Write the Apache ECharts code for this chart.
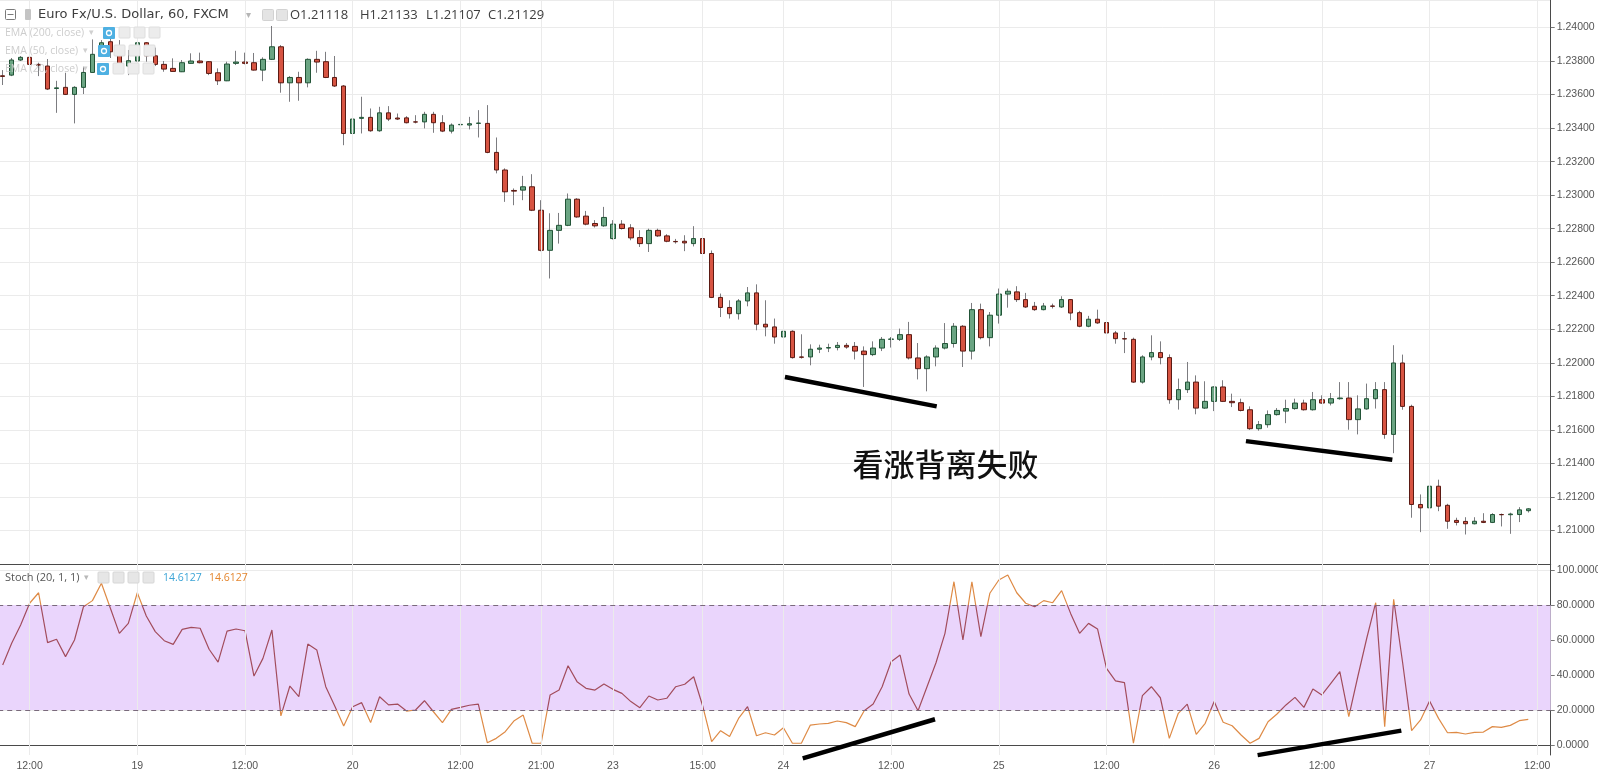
<!DOCTYPE html>
<html><head><meta charset="utf-8">
<script src="https://cdn.jsdelivr.net/npm/echarts@6/dist/echarts.min.js"></script>
<style>html,body{margin:0;padding:0;background:#fff;overflow:hidden}#c{width:1598px;height:771px}</style>
</head><body><div id="c"></div>
<script>
// ---------- DATA ----------
const open = [1.23712,1.23716,1.23806,1.23822,1.23780,1.23770,1.23636,1.23643,1.23601,1.23643,
1.23732,1.23836,1.23915,1.23855,1.23770,1.23800,1.23909,1.23831,1.23780,1.23756,
1.23736,1.23786,1.23800,1.23796,1.23730,1.23682,1.23786,1.23794,1.23790,1.23746,
1.23810,1.23885,1.23670,1.23702,1.23670,1.23810,1.23796,1.23702,1.23651,1.23368,
1.23458,1.23464,1.23384,1.23491,1.23460,1.23461,1.23437,1.23437,1.23482,1.23432,
1.23382,1.23420,1.23418,1.23428,1.23428,1.23255,1.23150,1.23028,1.23030,1.23050,
1.22910,1.22671,1.22790,1.22820,1.22976,1.22875,1.22831,1.22817,1.22741,1.22827,
1.22805,1.22747,1.22711,1.22790,1.22757,1.22724,1.22725,1.22711,1.22741,1.22652,
1.22390,1.22330,1.22293,1.22369,1.22417,1.22230,1.22214,1.22154,1.22188,1.22035,
1.22035,1.22081,1.22088,1.22091,1.22104,1.22098,1.22070,1.22049,1.22088,1.22140,
1.22140,1.22168,1.22029,1.21965,1.22035,1.22088,1.22115,1.22218,1.22070,1.22317,
1.22150,1.22284,1.22410,1.22423,1.22377,1.22337,1.22317,1.22339,1.22333,1.22377,
1.22299,1.22218,1.22260,1.22240,1.22178,1.22144,1.22140,1.21885,1.22035,1.22061,
1.22031,1.21780,1.21840,1.21885,1.21730,1.21770,1.21856,1.21770,1.21762,1.21720,
1.21607,1.21631,1.21691,1.21712,1.21727,1.21760,1.21720,1.21780,1.21760,1.21786,
1.21790,1.21661,1.21725,1.21786,1.21840,1.21573,1.21999,1.21740,1.21155,1.21135,
1.21264,1.21150,1.21060,1.21054,1.21040,1.21055,1.21048,1.21095,1.21094,1.21095,
1.21118];
const close = [1.23708,1.23806,1.23822,1.23780,1.23774,1.23633,1.23640,1.23601,1.23643,1.23732,
1.23840,1.23909,1.23855,1.23770,1.23802,1.23909,1.23831,1.23780,1.23752,1.23738,
1.23790,1.23800,1.23790,1.23726,1.23682,1.23782,1.23794,1.23786,1.23746,1.23810,
1.23885,1.23670,1.23702,1.23670,1.23810,1.23794,1.23702,1.23651,1.23368,1.23454,
1.23464,1.23384,1.23491,1.23454,1.23454,1.23432,1.23436,1.23482,1.23432,1.23382,
1.23418,1.23422,1.23426,1.23430,1.23255,1.23150,1.23020,1.23024,1.23050,1.22910,
1.22671,1.22790,1.22820,1.22976,1.22870,1.22827,1.22817,1.22867,1.22827,1.22801,
1.22745,1.22711,1.22790,1.22757,1.22725,1.22722,1.22715,1.22741,1.22652,1.22390,
1.22330,1.22293,1.22369,1.22417,1.22230,1.22214,1.22154,1.22188,1.22031,1.22033,
1.22081,1.22088,1.22091,1.22104,1.22094,1.22070,1.22049,1.22088,1.22140,1.22142,
1.22168,1.22029,1.21965,1.22035,1.22088,1.22115,1.22218,1.22070,1.22317,1.22150,
1.22284,1.22410,1.22427,1.22377,1.22333,1.22317,1.22339,1.22337,1.22377,1.22297,
1.22218,1.22260,1.22238,1.22178,1.22144,1.22142,1.21885,1.22035,1.22061,1.22031,
1.21780,1.21840,1.21885,1.21730,1.21770,1.21856,1.21770,1.21762,1.21716,1.21607,
1.21631,1.21691,1.21716,1.21727,1.21760,1.21720,1.21780,1.21760,1.21786,1.21790,
1.21661,1.21725,1.21786,1.21840,1.21573,1.21999,1.21740,1.21155,1.21135,1.21264,
1.21145,1.21055,1.21048,1.21040,1.21055,1.21048,1.21095,1.21094,1.21098,1.21123,
1.21129];
const low = [1.23657,1.23710,1.23800,1.23774,1.23710,1.23627,1.23491,1.23597,1.23428,1.23603,
1.23730,1.23824,1.23818,1.23764,1.23716,1.23736,1.23796,1.23770,1.23736,1.23736,
1.23734,1.23785,1.23786,1.23716,1.23657,1.23680,1.23776,1.23780,1.23743,1.23680,
1.23806,1.23611,1.23557,1.23563,1.23643,1.23730,1.23698,1.23645,1.23298,1.23338,
1.23368,1.23378,1.23378,1.23442,1.23448,1.23428,1.23428,1.23398,1.23372,1.23376,
1.23368,1.23404,1.23392,1.23344,1.23250,1.23130,1.22960,1.22940,1.22970,1.22905,
1.22665,1.22503,1.22711,1.22815,1.22865,1.22820,1.22807,1.22811,1.22735,1.22795,
1.22731,1.22691,1.22661,1.22751,1.22719,1.22711,1.22666,1.22694,1.22646,1.22386,
1.22273,1.22264,1.22258,1.22337,1.22194,1.22158,1.22114,1.22124,1.22025,1.22025,
1.21985,1.22058,1.22064,1.22074,1.22084,1.22020,1.21856,1.22040,1.22070,1.22091,
1.22130,1.22020,1.21901,1.21830,1.21979,1.22080,1.22091,1.21975,1.22020,1.22140,
1.22098,1.22234,1.22329,1.22363,1.22327,1.22310,1.22313,1.22324,1.22327,1.22254,
1.22212,1.22212,1.22232,1.22160,1.22114,1.22058,1.21880,1.21876,1.22015,1.21991,
1.21756,1.21721,1.21820,1.21693,1.21725,1.21712,1.21766,1.21736,1.21710,1.21600,
1.21595,1.21613,1.21685,1.21640,1.21720,1.21715,1.21715,1.21755,1.21746,1.21780,
1.21601,1.21573,1.21720,1.21727,1.21547,1.21461,1.21720,1.21076,1.20990,1.21100,
1.21115,1.21010,1.21030,1.20976,1.21036,1.21044,1.21044,1.21024,1.20980,1.21050,
1.21107];
const high = [1.23746,1.23818,1.23830,1.23826,1.23790,1.23812,1.23682,1.23730,1.23650,1.23766,
1.23929,1.23925,1.23975,1.23925,1.23866,1.23925,1.23913,1.23880,1.23800,1.23816,
1.23806,1.23846,1.23850,1.23800,1.23756,1.23796,1.23861,1.23850,1.23848,1.23822,
1.24009,1.23895,1.23710,1.23736,1.23816,1.23861,1.23855,1.23830,1.23657,1.23488,
1.23587,1.23517,1.23527,1.23531,1.23487,1.23471,1.23477,1.23497,1.23497,1.23477,
1.23428,1.23448,1.23467,1.23507,1.23537,1.23344,1.23160,1.23040,1.23115,1.23125,
1.22970,1.22892,1.22894,1.23010,1.22982,1.22906,1.22851,1.22930,1.22851,1.22851,
1.22827,1.22791,1.22800,1.22800,1.22767,1.22739,1.22761,1.22815,1.22900,1.22670,
1.22413,1.22373,1.22380,1.22452,1.22468,1.22373,1.22264,1.22237,1.22194,1.22170,
1.22110,1.22108,1.22114,1.22124,1.22118,1.22124,1.22098,1.22128,1.22154,1.22154,
1.22204,1.22244,1.22118,1.22045,1.22104,1.22237,1.22237,1.22225,1.22357,1.22353,
1.22303,1.22443,1.22443,1.22457,1.22417,1.22363,1.22357,1.22353,1.22397,1.22380,
1.22310,1.22280,1.22317,1.22245,1.22190,1.22184,1.22150,1.22045,1.22164,1.22128,
1.22050,1.21906,1.22005,1.21925,1.21890,1.21860,1.21896,1.21816,1.21786,1.21740,
1.21653,1.21716,1.21730,1.21780,1.21786,1.21780,1.21826,1.21806,1.21820,1.21885,
1.21885,1.21806,1.21876,1.21885,1.21885,1.22105,1.22049,1.21750,1.21215,1.21298,
1.21303,1.21159,1.21076,1.21079,1.21079,1.21103,1.21103,1.21101,1.21106,1.21139,
1.21133];
const stoch = [45.7,58.1,68.6,81.0,87.0,58.5,60.4,50.5,60.0,79.0,
82.5,92.4,78.1,63.8,69.5,87.0,73.7,64.8,59.6,57.5,
66.1,67.2,66.7,54.7,47.4,65.1,66.3,65.3,39.4,49.5,
65.7,16.6,33.7,27.6,57.7,54.3,33.3,22.3,10.9,21.9,
24.2,12.8,27.6,22.9,23.4,19.4,20.0,25.3,19.0,12.8,
20.4,21.5,22.7,23.4,1.3,3.8,7.6,13.9,17.1,1.0,
1.0,28.6,31.4,45.3,36.2,32.4,31.4,34.9,31.8,29.5,
24.8,21.3,28.0,25.7,26.7,33.3,34.7,39.0,22.3,1.9,
8.2,4.8,15.2,21.9,5.3,7.0,5.7,9.9,1.0,1.0,
11.4,12.0,12.4,13.7,12.8,10.5,19.6,23.4,33.3,47.6,
51.4,29.1,19.6,33.3,47.0,63.8,93.3,60.0,93.3,61.9,
86.7,94.3,97.1,87.0,81.0,79.0,82.5,81.3,88.2,75.2,
63.8,69.5,66.3,43.8,36.6,35.6,1.0,28.2,33.3,27.0,
3.8,18.1,23.4,6.1,12.4,24.8,13.0,11.0,5.7,1.0,
3.8,13.3,17.7,22.9,27.2,21.5,32.0,28.6,35.2,41.9,
16.2,39.0,61.0,81.3,10.5,83.2,47.0,8.2,14.3,25.1,
15.2,7.0,7.2,6.3,7.2,7.4,10.5,10.1,11.2,13.9,
14.6127];
const timeLabelIndex = [3,15,27,39,51,60,68,78,87,99,111,123,135,147,159,171];
const timeLabelText = ['12:00','19','12:00','20','12:00','21:00','23','15:00','24','12:00','25','12:00','26','12:00','27','12:00'];
const futureSlots = 2;
const lastPrice = 1.21129;
const stochBands = [20, 80];
const stochTicks = [0, 20, 40, 60, 80, 100];
const titleText = 'Euro Fx/U.S. Dollar, 60, FXCM';
const ohlcText = ['O1.21118', 'H1.21133', 'L1.21107', 'C1.21129'];
const emaLabels = ['EMA (200, close)', 'EMA (50, close)', 'EMA (20, close)'];
const stochTitle = 'Stoch (20, 1, 1)';
const stochValueText = '14.6127';
const annotationText = '看涨背离失败';
const annotationAt = [105.06, 1.21397];
const priceTrendLines = [[[87.17, 1.21915], [104.08, 1.21740]], [[138.54, 1.21533], [154.85, 1.21422]]];
const stochTrendLines = [[[89.15, -7.6], [103.89, 14.7]], [[139.84, -5.8], [155.85, 8.2]]];

// ---------- LAYOUT ----------
const SLOT = 8.974, X0 = 2.7;
const N = open.length;
const slots = N + futureSlots;
const categories = Array.from({length: slots}, (_, i) => String(i));
const labelMap = {};
timeLabelIndex.forEach((k, j) => { labelMap[k] = timeLabelText[j]; });
const gridLeft = X0 - SLOT / 2;
const gridWidth = SLOT * slots;
const AX = '#4a4a4a', LBL = '#555555', GRID = '#ebebeb';
const FONT = '"Liberation Sans", Arial, sans-serif';

const wickData = open.map((o, i) => [o, close[i], low[i], high[i]]);
const bodyData = open.map((o, i) => [o, close[i], Math.min(o, close[i]), Math.max(o, close[i])]);

const chart = echarts.init(document.getElementById('c'), null, {renderer: 'canvas'});
const vLines = timeLabelIndex.map(k => ({xAxis: String(k)}));

chart.setOption({
  animation: false,
  backgroundColor: '#ffffff',
  grid: [
    {left: gridLeft, top: 0, width: gridWidth, height: 564, containLabel: false, outerBoundsMode: 'none'},
    {left: gridLeft, top: 564, width: gridWidth, height: 191, containLabel: false, outerBoundsMode: 'none'}
  ],
  xAxis: [
    {type: 'category', gridIndex: 0, data: categories, boundaryGap: true,
     axisLine: {show: true, lineStyle: {color: AX, width: 1}}, axisTick: {show: false},
     axisLabel: {show: false}, splitLine: {show: false}},
    {type: 'category', gridIndex: 1, data: categories, boundaryGap: true,
     axisLine: {show: true, lineStyle: {color: AX, width: 1}}, axisTick: {show: false},
     axisLabel: {show: true, interval: (i) => labelMap[i] !== undefined,
                 formatter: (v) => labelMap[+v] || '', color: LBL, fontSize: 10.5, margin: 6, fontFamily: FONT},
     splitLine: {show: false}}
  ],
  yAxis: [
    {type: 'value', gridIndex: 0, position: 'right', min: 1.208, max: 1.24164, interval: 0.002,
     axisLine: {show: true, lineStyle: {color: AX}}, axisTick: {show: true, length: 4, lineStyle: {color: '#777'}},
     axisLabel: {formatter: v => v.toFixed(5), color: LBL, fontSize: 10.5, margin: 6, fontFamily: FONT,
                 showMinLabel: false, showMaxLabel: false},
     splitLine: {show: true, lineStyle: {color: GRID}}},
    {type: 'value', gridIndex: 1, position: 'right', min: -5.714, max: 103.43,
     axisLine: {show: true, lineStyle: {color: AX}},
     axisTick: {show: true, length: 4, customValues: stochTicks, lineStyle: {color: '#777'}},
     axisLabel: {customValues: stochTicks, formatter: v => v.toFixed(4), color: LBL, fontSize: 10.5, margin: 6, fontFamily: FONT},
     splitLine: {show: true, lineStyle: {color: GRID}}}
  ],
  visualMap: {type: 'piecewise', show: false, seriesIndex: 3, dimension: 1,
    pieces: [{gt: stochBands[0], lte: stochBands[1], color: '#a24c5c'}],
    outOfRange: {color: '#de8a45'}},
  series: [
    {name: 'wick', type: 'candlestick', xAxisIndex: 0, yAxisIndex: 0, data: wickData, barWidth: 0.01,
     silent: true, z: 2,
     itemStyle: {color: '#7c7c80', color0: '#7c7c80', borderColor: '#7c7c80', borderColor0: '#7c7c80',
                 borderColorDoji: '#7c7c80', borderWidth: 1},
     markLine: {silent: true, symbol: ['none', 'none'], label: {show: false},
                lineStyle: {color: GRID, type: 'solid', width: 1}, data: vLines}},
    {name: 'EUR/USD', type: 'candlestick', xAxisIndex: 0, yAxisIndex: 0, data: bodyData, barWidth: 5, z: 3,
     itemStyle: {color: '#6ba583', color0: '#d75442', borderColor: '#225437', borderColor0: '#5b1a13',
                 borderColorDoji: '#333333', borderWidth: 1},
     markLine: {silent: true, symbol: ['none', 'none'],
                data: [{yAxis: lastPrice, lineStyle: {opacity: 0},
                        label: {show: true, position: 'end', distance: 1, formatter: lastPrice.toFixed(5),
                                backgroundColor: '#5f9f7c', color: '#ffffff', padding: [2, 3, 2, 3],
                                fontSize: 11, fontFamily: FONT, fontWeight: 'bold'}}]}},
    {name: 'stochBg', type: 'line', xAxisIndex: 1, yAxisIndex: 1, data: stoch, symbol: 'none', silent: true, z: 1,
     lineStyle: {opacity: 0},
     markArea: {silent: true, itemStyle: {color: '#ead5fc'}, data: [[{yAxis: stochBands[0]}, {yAxis: stochBands[1]}]]},
     markLine: {silent: true, symbol: ['none', 'none'], label: {show: false},
                lineStyle: {color: GRID, type: 'solid', width: 1},
                data: vLines.concat(stochBands.map(b => ({yAxis: b, lineStyle: {color: '#7a6a7c', type: [5, 4], width: 1}})))}},
    {name: 'Stoch', type: 'line', xAxisIndex: 1, yAxisIndex: 1, data: stoch, symbol: 'none', z: 4,
     lineStyle: {width: 1.2}}
  ]
});

// ---------- OVERLAY TEXT / ANNOTATIONS ----------
function toPx(gridIndex, i, v) {
  const a = chart.convertToPixel({gridIndex: gridIndex}, [0, v]);
  const b = chart.convertToPixel({gridIndex: gridIndex}, [1, v]);
  return [a[0] + (b[0] - a[0]) * i, a[1]];
}
const g = [];
const T = (x, y, text, font, fill, align) => g.push({type: 'text', x: x, y: y, silent: true, z: 100,
  style: {text: text, font: font, fill: fill, textAlign: align || 'left', textVerticalAlign: 'middle'}});
const R = (x, y, w, h, fill, stroke) => g.push({type: 'rect', silent: true, z: 100,
  shape: {x: x, y: y, width: w, height: h, r: 1}, style: {fill: fill, stroke: stroke || null, lineWidth: 1}});

// header
R(5.5, 9.5, 10, 10, '#ffffff', '#7a7a7a');
g.push({type: 'line', silent: true, z: 101, shape: {x1: 7.5, y1: 14.5, x2: 13.5, y2: 14.5}, style: {stroke: '#7a7a7a', lineWidth: 1}});
R(25, 9, 6, 11, '#c4c4c4');
T(38, 15, titleText, '13px "DejaVu Sans"', '#3d3d3d');
T(246, 15, '▾', '10px "DejaVu Sans"', '#b5b5b5');
R(262.5, 9.5, 11, 11, '#e4e4e4', '#d2d2d2');
R(276.5, 9.5, 11, 11, '#e4e4e4', '#d2d2d2');
[290, 360, 426, 488].forEach((x, k) => T(x, 15, ohlcText[k], '13px "Open Sans"', '#3d3d3d'));

// EMA legends (faded)
const emaY = [33, 51, 69], emaArrow = [89, 83, 83], emaEye = [103, 98, 97];
emaLabels.forEach((t, k) => {
  T(5, emaY[k], t, '10.5px "Open Sans"', '#cdcdcd');
  T(emaArrow[k], emaY[k], '▾', '9px "DejaVu Sans"', '#d0d0d0');
  R(emaEye[k], emaY[k] - 6, 12, 12, '#4eb0e2');
  g.push({type: 'circle', silent: true, z: 101, shape: {cx: emaEye[k] + 6, cy: emaY[k], r: 2.5},
          style: {fill: '#4eb0e2', stroke: '#ffffff', lineWidth: 1.3}});
  [16, 31, 46].forEach(dx => R(emaEye[k] + dx, emaY[k] - 6, 11, 11, '#ececec', '#dedede'));
});

// Stoch legend
T(5, 578, stochTitle, '11px "Open Sans"', '#555555');
T(84, 578, '▾', '9px "DejaVu Sans"', '#b8b8b8');
[98, 113, 128, 143].forEach(x => R(x, 572, 11, 11, '#e6e6e6', '#d6d6d6'));
T(163, 578, stochValueText, '10.5px "Open Sans"', '#3ba4d6');
T(209, 578, stochValueText, '10.5px "Open Sans"', '#e4862f');

// trend lines drawn on the chart
priceTrendLines.forEach(l => {
  const p1 = toPx(0, l[0][0], l[0][1]), p2 = toPx(0, l[1][0], l[1][1]);
  g.push({type: 'line', silent: true, z: 110, shape: {x1: p1[0], y1: p1[1], x2: p2[0], y2: p2[1]},
          style: {stroke: '#000000', lineWidth: 4.5}});
});
stochTrendLines.forEach(l => {
  const p1 = toPx(1, l[0][0], l[0][1]), p2 = toPx(1, l[1][0], l[1][1]);
  g.push({type: 'line', silent: true, z: 110, shape: {x1: p1[0], y1: p1[1], x2: p2[0], y2: p2[1]},
          style: {stroke: '#000000', lineWidth: 4.5}});
});
const tp = toPx(0, annotationAt[0], annotationAt[1]);
T(tp[0], tp[1], annotationText, '500 31px "Noto Sans CJK SC"', '#111111', 'center');

chart.setOption({graphic: g});
</script>
</body></html>
